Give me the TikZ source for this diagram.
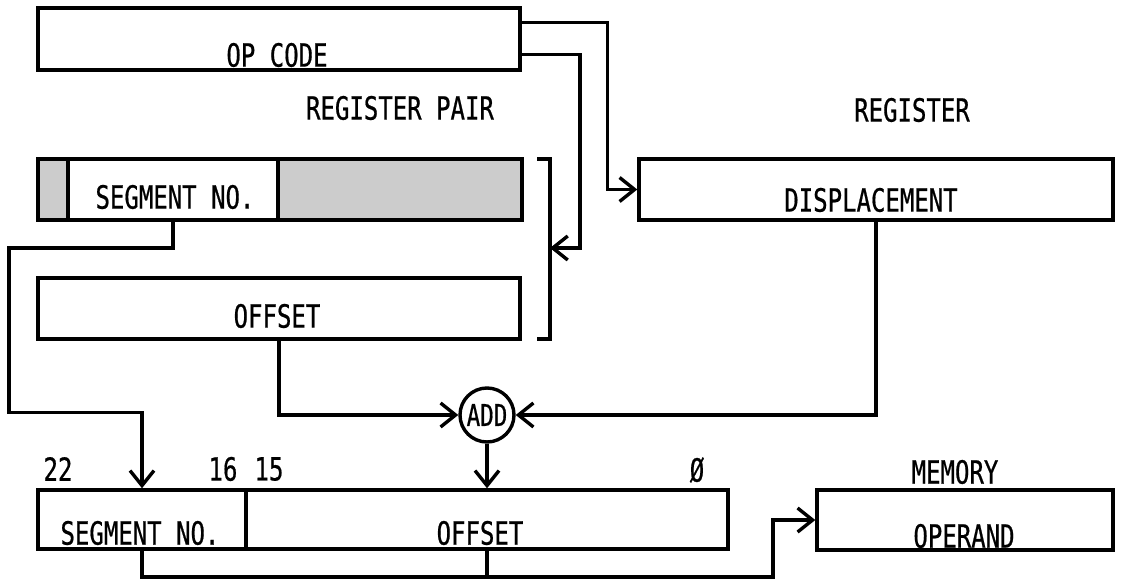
\documentclass[tikz,border=0pt]{standalone}
\usepackage{fontspec}
\newfontfamily\lgfont{DejaVu Sans Mono}[FakeStretch=0.75,FakeBold=0.6]
\usetikzlibrary{arrows.meta,calc}
\begin{document}
\begin{tikzpicture}[x=1pt,y=-1pt,
  box/.style={draw, line width=3.4pt, rectangle, inner sep=0pt},
  lbl/.style={font=\lgfont\fontsize{32}{34}\selectfont, inner sep=0pt, anchor=center},
  conn/.style={line width=3.4pt},
  arr/.style={conn, -{Straight Barb[length=15pt,width=24pt]}},
  shaded/.style={fill=black!20}]
\useasboundingbox (0,0) rectangle (1121,583);

% boxes
\node[box, minimum width=482pt, minimum height=62pt] (opcode) at (279,39) {};
\node[box, shaded, minimum width=30pt, minimum height=61pt] (segpadl) at (53,189.5) {};
\node[box, minimum width=210pt, minimum height=61pt] (segfield) at (173,189.5) {};
\node[box, shaded, minimum width=244pt, minimum height=61pt] (segpadr) at (400,189.5) {};
\node[box, minimum width=482pt, minimum height=61pt] (offreg) at (279,308.5) {};
\node[box, minimum width=474pt, minimum height=61pt] (disp) at (876,189.5) {};
\node[box, minimum width=208pt, minimum height=59pt] (bseg) at (142,519.5) {};
\node[box, minimum width=482pt, minimum height=59pt] (boff) at (487,519.5) {};
\node[box, minimum width=296pt, minimum height=60pt] (mem) at (965,520) {};
\node[circle, draw, line width=3.4pt, minimum size=54pt, inner sep=0pt,
      font=\lgfont\fontsize{30}{32}\selectfont] (add) at (487,415) {ADD};

% labels
\node[lbl] (topc) at (277,55) {OP CODE};
\node[lbl] (regpair) at (400,108) {REGISTER PAIR};
\node[lbl] (reg) at (912,110) {REGISTER};
\node[lbl] (segtxt) at (175,197) {SEGMENT NO.};
\node[lbl] (offtxt) at (277,316) {OFFSET};
\node[lbl] (disptxt) at (871,200) {DISPLACEMENT};
\node[lbl] (n22) at (58,469) {22};
\node[lbl] (n16) at (223,469) {16};
\node[lbl] (n15) at (269,469) {15};
\node[lbl] (n0) at (697,470) {Ø};
\node[lbl] (bsegtxt) at (140,533) {SEGMENT NO.};
\node[lbl] (bofftxt) at (480,533) {OFFSET};
\node[lbl] (memtxt) at (955,472) {MEMORY};
\node[lbl] (opnd) at (964,536) {OPERAND};

% bracket of the register pair
\coordinate (bktop) at (537,159);
\coordinate (bkbot) at (537,339);
\coordinate (bk) at (550,248);
\draw[conn] (bktop) -- (bktop -| bk) -- (bkbot -| bk) -- (bkbot);

% connectors
\draw[arr] ($(opcode.north east)+(0,16)$) -| ($(disp.west)+(-30,0)$) -- (disp.west);
\draw[arr] ($(opcode.south east)+(0,-17)$) -| (580,248) -- (bk);
\draw[arr] (segfield.south) |- (9,248) |- ($(bseg.north)+(0,-76)$) -- (bseg.north);
\draw[arr] (offreg.south) |- (add.west);
\draw[arr] (disp.south) |- (add.east);
\draw[arr] (add.south) -- (boff.north);
\coordinate (j) at (773,577);
\draw[arr] (bseg.south) |- (j) |- (mem.west);
\draw[conn] (boff.south) -- (boff.south |- j);
\end{tikzpicture}
\end{document}
